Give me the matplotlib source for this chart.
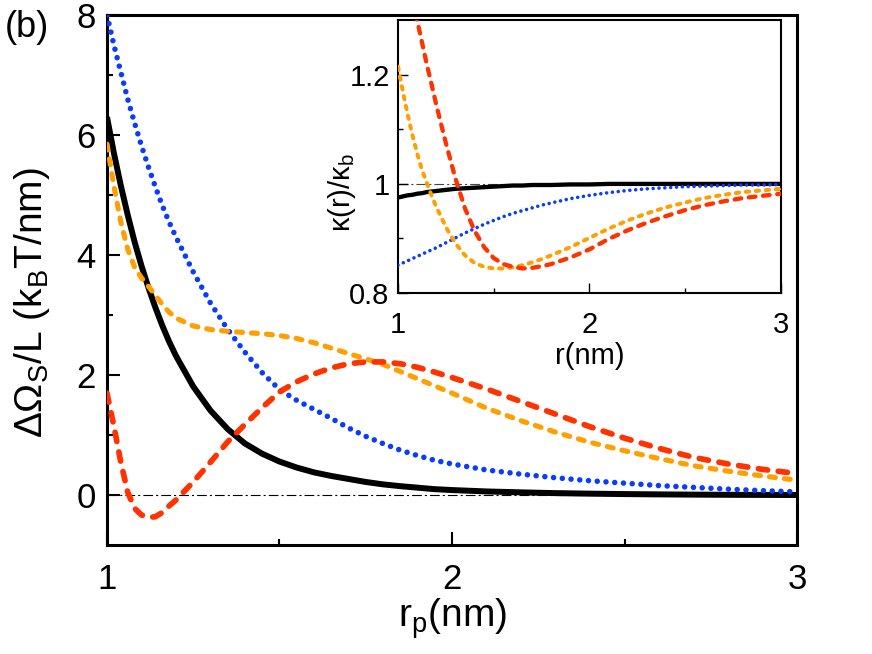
import matplotlib
matplotlib.use("Agg")
import matplotlib.pyplot as plt

plt.rcParams["font.family"] = ["Liberation Sans", "DejaVu Sans"]
plt.rcParams["mathtext.fontset"] = "custom"
plt.rcParams["mathtext.rm"] = "Liberation Sans"
plt.rcParams["mathtext.it"] = "Liberation Sans:italic"
plt.rcParams["lines.scale_dashes"] = False

# === main panel: Delta Omega_S / L vs r_p ===
xm = [1.00, 1.02, 1.04, 1.06, 1.08, 1.10, 1.12, 1.14, 1.16, 1.18, 1.20,
      1.25, 1.30, 1.35, 1.40, 1.45, 1.50, 1.55, 1.60, 1.65, 1.70, 1.75,
      1.80, 1.85, 1.90, 1.95, 2.00, 2.10, 2.20, 2.30, 2.40, 2.50, 2.60,
      2.70, 2.80, 2.90, 3.00]
black_m = [6.30, 5.70, 5.16, 4.67, 4.22, 3.82, 3.46, 3.13, 2.83, 2.56, 2.32,
           1.81, 1.41, 1.10, 0.86, 0.69, 0.56, 0.46, 0.38, 0.32, 0.27, 0.22,
           0.18, 0.15, 0.125, 0.10, 0.085, 0.062, 0.047, 0.034, 0.025, 0.018, 0.013,
           0.009, 0.006, 0.004, 0.003]
blue_m = [8.00, 7.50, 7.05, 6.60, 6.20, 5.82, 5.47, 5.14, 4.83, 4.55, 4.30,
          3.72, 3.20, 2.76, 2.38, 2.04, 1.76, 1.58, 1.43, 1.28, 1.12, 0.98,
          0.86, 0.75, 0.66, 0.58, 0.52, 0.42, 0.35, 0.29, 0.24, 0.20, 0.16,
          0.13, 0.10, 0.075, 0.055]
orange_m = [5.85, 5.15, 4.55, 4.10, 3.80, 3.62, 3.48, 3.33, 3.18, 3.05, 2.95,
            2.82, 2.76, 2.73, 2.71, 2.69, 2.66, 2.61, 2.54, 2.45, 2.36, 2.27,
            2.18, 2.06, 1.94, 1.82, 1.70, 1.45, 1.24, 1.05, 0.88, 0.74, 0.61,
            0.49, 0.40, 0.32, 0.25]
red_m = [1.70, 1.15, 0.55, 0.05, -0.22, -0.33, -0.37, -0.36, -0.29, -0.18, -0.08,
         0.22, 0.55, 0.89, 1.18, 1.46, 1.72, 1.89, 2.02, 2.12, 2.19, 2.22,
         2.22, 2.19, 2.13, 2.05, 1.96, 1.77, 1.56, 1.35, 1.14, 0.95, 0.78,
         0.63, 0.52, 0.43, 0.36]

# === inset: kappa(r)/kappa_b vs r ===
xi = [1.00, 1.025, 1.05, 1.075, 1.10, 1.125, 1.15, 1.175, 1.20, 1.25, 1.30,
      1.35, 1.40, 1.45, 1.50, 1.55, 1.60, 1.65, 1.70, 1.75, 1.80, 1.90,
      2.00, 2.10, 2.20, 2.30, 2.40, 2.50, 2.60, 2.70, 2.80, 2.90, 3.00]
black_i = [0.975, 0.977, 0.979, 0.980, 0.982, 0.983, 0.985, 0.986, 0.987, 0.989, 0.991,
           0.992, 0.993, 0.994, 0.995, 0.996, 0.997, 0.997, 0.998, 0.998, 0.998, 0.999,
           0.999, 1.000, 1.000, 1.000, 1.000, 1.000, 1.000, 1.000, 1.000, 1.000, 1.000]
blue_i = [0.851, 0.855, 0.859, 0.863, 0.867, 0.871, 0.875, 0.879, 0.883, 0.892, 0.901,
          0.910, 0.918, 0.926, 0.933, 0.940, 0.946, 0.951, 0.956, 0.961, 0.965, 0.973,
          0.979, 0.984, 0.988, 0.991, 0.993, 0.995, 0.996, 0.997, 0.998, 0.998, 0.999]
orange_i = [1.215, 1.170, 1.128, 1.090, 1.056, 1.026, 1.002, 0.979, 0.958, 0.921, 0.891,
            0.869, 0.855, 0.848, 0.845, 0.845, 0.847, 0.851, 0.856, 0.862, 0.869, 0.884,
            0.901, 0.918, 0.933, 0.946, 0.957, 0.966, 0.974, 0.980, 0.985, 0.988, 0.991]
red_i = [1.470, 1.430, 1.385, 1.340, 1.300, 1.260, 1.220, 1.183, 1.145, 1.075, 1.010,
         0.955, 0.914, 0.884, 0.864, 0.853, 0.848, 0.845, 0.846, 0.849, 0.853, 0.865,
         0.880, 0.899, 0.915, 0.929, 0.941, 0.952, 0.961, 0.968, 0.974, 0.978, 0.982]

main_xticks = [1, 2, 3]
main_yticks = [0, 2, 4, 6, 8]
inset_xticks = [1, 2, 3]
inset_yticks = [0.8, 1.0, 1.2]
inset_yticklabels = ["0.8", "1", "1.2"]

BLACK = "black"
BLUE = "#0a3cff"
ORANGE = "#ffa000"
RED = "#ff3300"
DASHDOT = (0, (7, 2.2, 1.5, 2.2))

fig = plt.figure(figsize=(8.72, 6.54), dpi=100)

# 메인 패널
ax = fig.add_axes([0.1227, 0.1667, 0.7913, 0.8103])
ax.axhline(0, color="black", lw=0.8, ls=DASHDOT, zorder=1)
ax.plot(xm, black_m, color=BLACK, lw=4.3, solid_capstyle="butt", zorder=3)
ax.plot(xm, blue_m, color=BLUE, lw=4.0, ls=(0, (0.01, 6.3)),
        dash_capstyle="round", zorder=3)
ax.plot(xm, orange_m, color=ORANGE, lw=3.7, ls=(0, (4.3, 6.5)),
        dash_capstyle="round", zorder=3)
ax.plot(xm, red_m, color=RED, lw=4.1, ls=(0, (6.7, 7.7)),
        dash_capstyle="round", zorder=4)
ax.set_xlim(1, 3)
ax.set_ylim(-0.83, 8)
ax.set_xticks(main_xticks)
ax.set_xticks([1.5, 2.5], minor=True)
ax.set_yticks(main_yticks)
ax.set_yticks([1, 3, 5, 7], minor=True)
ax.tick_params(which="both", direction="in", width=1.5, labelsize=25)
ax.tick_params(which="major", length=9.5)
ax.tick_params(which="minor", length=4.5)
ax.tick_params(axis="x", which="major", pad=13)
ax.tick_params(axis="y", which="major", pad=8)
for s in ax.spines.values():
    s.set_linewidth(2.2)
ax.set_xlabel("r$_{\\rm p}$(nm)", fontsize=28, labelpad=0)
ax.set_ylabel("ΔΩ$_{\\rm S}$/L (k$_{\\rm B}$T/nm)", fontsize=28)
ax.yaxis.set_label_coords(-0.08, 0.458)

# 인셋
axi = fig.add_axes([0.4564, 0.552, 0.4392, 0.417])
axi.axhline(1, color="#444444", lw=0.8, ls=DASHDOT, zorder=1)
axi.plot(xi, black_i, color=BLACK, lw=3.1, zorder=3)
axi.plot(xi, blue_i, color=BLUE, lw=2.6, ls=(0, (0.01, 4.2)),
         dash_capstyle="round", zorder=3)
axi.plot(xi, orange_i, color=ORANGE, lw=2.9, ls=(0, (2.4, 4.8)),
         dash_capstyle="round", zorder=3)
axi.plot(xi, red_i, color=RED, lw=3.1, ls=(0, (4.8, 5.5)),
         dash_capstyle="round", zorder=4)
axi.set_xlim(1, 3)
axi.set_ylim(0.8, 1.3)
axi.set_xticks(inset_xticks)
axi.set_xticks([1.5, 2.5], minor=True)
axi.set_yticks(inset_yticks)
axi.set_yticklabels(inset_yticklabels)
axi.set_yticks([0.9, 1.1], minor=True)
axi.tick_params(which="both", direction="in", width=1.0, labelsize=21)
axi.tick_params(which="major", length=7)
axi.tick_params(which="minor", length=3.6)
axi.tick_params(axis="x", which="major", pad=13)
axi.tick_params(axis="y", which="major", pad=6)
for s in axi.spines.values():
    s.set_linewidth(1.5)
axi.set_xlabel("r(nm)", fontsize=21, labelpad=2)
axi.set_ylabel("κ(r)/κ$_{\\rm b}$", fontsize=21)
axi.yaxis.set_label_coords(-0.105, 0.37)

fig.text(0.006, 0.985, "(b)", fontsize=26, ha="left", va="top")

fig.savefig("out.png", dpi=100)
